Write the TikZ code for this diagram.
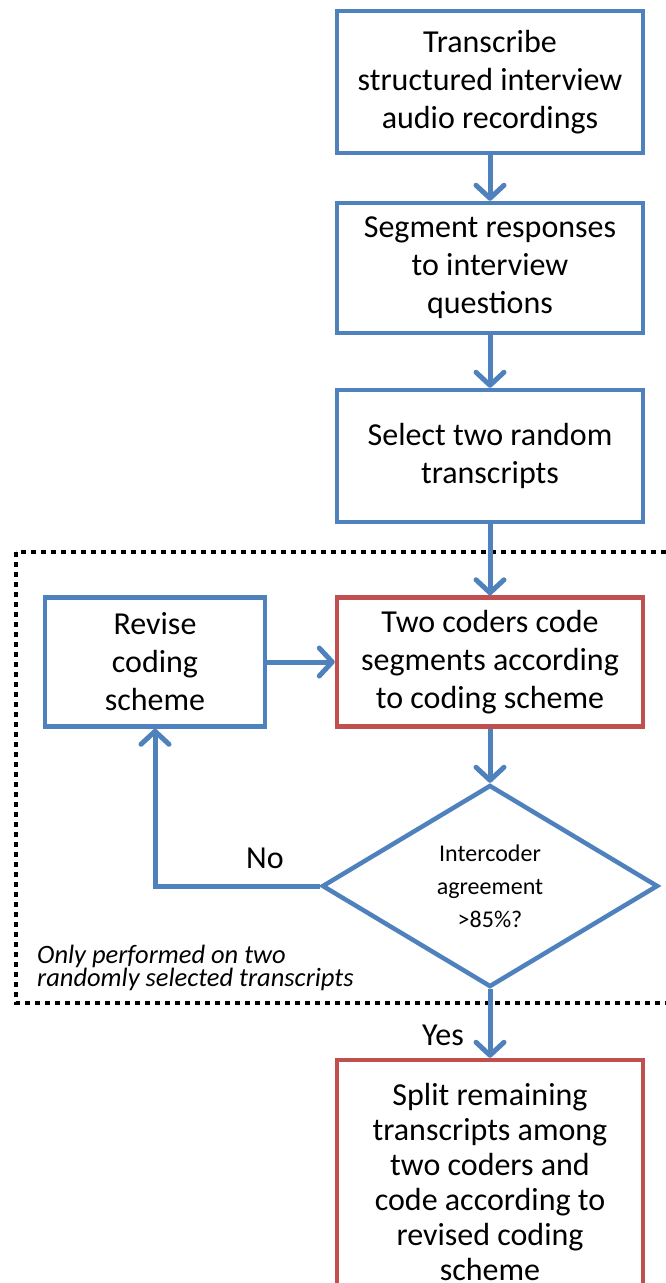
\documentclass[tikz,border=0pt]{standalone}
\usepackage{fontspec}
\setmainfont{Carlito}
\usetikzlibrary{shapes.geometric,arrows.meta}
\definecolor{cblue}{RGB}{79,129,189}
\definecolor{cred}{RGB}{192,80,77}
\begin{document}
\begin{tikzpicture}[x=1pt,y=-1pt,
 box/.style={draw=cblue,line width=4.5pt,rectangle,align=center,inner sep=0pt,
   font=\fontsize{32}{38}\selectfont,text=black},
 redbox/.style={box,draw=cred},
 arr/.style={draw=cblue,line width=5pt,-{Straight Barb[length=13pt,width=28pt,round]}},
 lbl/.style={font=\fontsize{32}{38}\selectfont,text=black,inner sep=0pt},
 ]
\useasboundingbox (0,0) rectangle (666,1283);
% dotted region
\draw[line width=4pt,dash pattern=on 5pt off 5pt] (16,552) rectangle (700,1003);
% nodes
\node[box,minimum width=306pt,minimum height=142pt] (b1) at (490,82)
  {Transcribe\\structured interview\\audio recordings};
\node[box,minimum width=306pt,minimum height=130pt] (b2) at (490,268)
  {Segment responses\\to interview\\questions};
\node[box,minimum width=306pt,minimum height=132pt] (b3) at (490,456)
  {Select two random\\transcripts};
\node[redbox,minimum width=306pt,minimum height=129pt] (code) at (490,662)
  {Two coders code\\segments according\\to coding scheme};
\node[box,minimum width=220pt,minimum height=129pt] (rev) at (155,662)
  {Revise\\coding\\scheme};
\node[diamond,draw=cblue,line width=4.5pt,minimum width=336pt,minimum height=202pt,
  inner sep=0pt,align=center,font=\fontsize{24}{33}\selectfont] (d) at (490,886)
  {Intercoder\\agreement\\>85\%?};
\node[redbox,minimum width=306pt,minimum height=244pt,
  font=\fontsize{32}{35}\selectfont] (fin) at (490,1182)
  {Split remaining\\transcripts among\\two coders and\\code according to\\revised coding\\scheme};
\node[font=\fontsize{26.5}{23}\selectfont\itshape,align=left,anchor=west,inner sep=0pt]
  (note) at (37,968) {Only performed on two\\randomly selected transcripts};
% connectors
\draw[arr] (b1) -- (b2);
\draw[arr] (b2) -- (b3);
\draw[arr] (b3) -- (code);
\draw[arr] (rev) -- (code);
\draw[arr] (code) -- (d);
\draw[arr] (d.west) -- (rev.south |- d.west) -- (rev.south);
\node[lbl] (no) at (265,858) {No};
\draw[arr] (d.south) -- (fin.north);
\node[lbl] (yes) at (443,1035) {Yes};
\end{tikzpicture}
\end{document}
